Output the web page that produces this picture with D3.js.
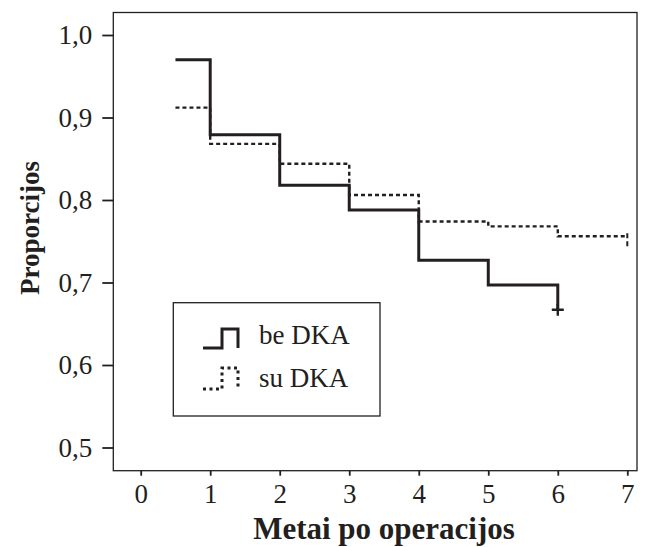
<!DOCTYPE html>
<html>
<head>
<meta charset="utf-8">
<script src="https://cdn.jsdelivr.net/npm/d3@7"></script>
<style>
  body { margin: 0; background: #fff; }
  svg { display: block; font-family: "Liberation Serif", "Times New Roman", serif; }
</style>
</head>
<body>
<svg id="chart" width="648" height="547"></svg>
<script>
// step curves
var beTimes = [0.5, 1, 2, 3, 4, 5, 6];
var beValues = [0.970, 0.879, 0.818, 0.788, 0.727, 0.697, 0.667];
var suTimes = [0.5, 1, 2, 3, 4, 5, 6, 7];
var suValues = [0.912, 0.868, 0.844, 0.806, 0.774, 0.768, 0.756, 0.756];
var xTicks = [0, 1, 2, 3, 4, 5, 6, 7];
var yTicks = [0.5, 0.6, 0.7, 0.8, 0.9, 1.0];
var seriesNames = ["be DKA", "su DKA"];

var ink = "#231f20";
var svg = d3.select("#chart");

var x = d3.scaleLinear().domain([0, 7]).range([140.7, 627.3]);
var y = d3.scaleLinear().domain([0.5, 1.0]).range([447.5, 35]);

// frame
svg.append("rect")
  .attr("x", 113.3).attr("y", 12.5)
  .attr("width", 637 - 113.3).attr("height", 470.7 - 12.5)
  .attr("fill", "none").attr("stroke", ink).attr("stroke-width", 1.3);

// x axis
var gx = svg.append("g")
  .attr("transform", "translate(0,470.7)")
  .call(d3.axisBottom(x).tickValues(xTicks).tickSize(5).tickPadding(8).tickFormat(d3.format("d")));
gx.select(".domain").remove();
gx.selectAll("line").attr("stroke", ink).attr("stroke-width", 1.8);
gx.selectAll("text").attr("font-size", 27).attr("fill", ink)
  .attr("font-family", "Liberation Serif");

// y axis
var gy = svg.append("g")
  .attr("transform", "translate(113.3,0)")
  .call(d3.axisLeft(y).tickValues(yTicks).tickSize(11).tickPadding(10)
    .tickFormat(function(d) { return d3.format(".1f")(d).replace(".", ","); }));
gy.select(".domain").remove();
gy.selectAll("line").attr("stroke", ink).attr("stroke-width", 1.8);
gy.selectAll("text").attr("font-size", 27).attr("fill", ink)
  .attr("font-family", "Liberation Serif");

// axis titles
svg.append("text")
  .attr("x", x(3.5)).attr("y", 539)
  .attr("text-anchor", "middle")
  .attr("font-size", 31).attr("font-weight", "bold").attr("fill", ink)
  .text("Metai po operacijos");

svg.append("text")
  .attr("transform", "translate(39,228) rotate(-90)")
  .attr("text-anchor", "middle")
  .attr("font-size", 27).attr("font-weight", "bold").attr("fill", ink)
  .text("Proporcijos");

var step = d3.line()
  .x(function(d) { return x(d[0]); })
  .y(function(d) { return y(d[1]); })
  .curve(d3.curveStepAfter);

// su DKA, dashed
svg.append("path")
  .datum(d3.zip(suTimes, suValues))
  .attr("d", step)
  .attr("fill", "none").attr("stroke", ink)
  .attr("stroke-width", 2.4).attr("stroke-dasharray", "4,3");

var lastSu = suTimes.length - 1;
svg.append("line")
  .attr("x1", x(suTimes[lastSu])).attr("x2", x(suTimes[lastSu]))
  .attr("y1", y(suValues[lastSu]) - 3).attr("y2", y(suValues[lastSu]) + 10)
  .attr("stroke", ink).attr("stroke-width", 2).attr("stroke-dasharray", "5,3");

// be DKA, solid
svg.append("path")
  .datum(d3.zip(beTimes, beValues))
  .attr("d", step)
  .attr("fill", "none").attr("stroke", ink)
  .attr("stroke-width", 3);

// censor mark
var lastBe = beTimes.length - 1;
var cx = x(beTimes[lastBe]), cy = y(beValues[lastBe]);
svg.append("path")
  .attr("d", "M" + (cx - 6) + "," + cy + "H" + (cx + 6) + "M" + cx + "," + (cy - 6) + "V" + (cy + 6))
  .attr("stroke", ink).attr("stroke-width", 2.4);

// legend
var legend = svg.append("g");
legend.append("rect")
  .attr("x", 173.3).attr("y", 302.7)
  .attr("width", 380 - 173.3).attr("height", 416 - 302.7)
  .attr("fill", "#fff").attr("stroke", ink).attr("stroke-width", 1.3);

var symbols = [
  { d: "M203,348H222V329H238V348", dash: null, w: 3 },
  { d: "M203,389H222V368H238V389", dash: "3,3.5", w: 3 }
];
symbols.forEach(function(s, i) {
  legend.append("path")
    .attr("d", s.d)
    .attr("fill", "none").attr("stroke", ink)
    .attr("stroke-width", s.w)
    .attr("stroke-dasharray", s.dash);
  legend.append("text")
    .attr("x", 259).attr("y", i === 0 ? 344 : 387)
    .attr("font-size", 27).attr("fill", ink)
    .text(seriesNames[i]);
});
</script>
</body>
</html>
